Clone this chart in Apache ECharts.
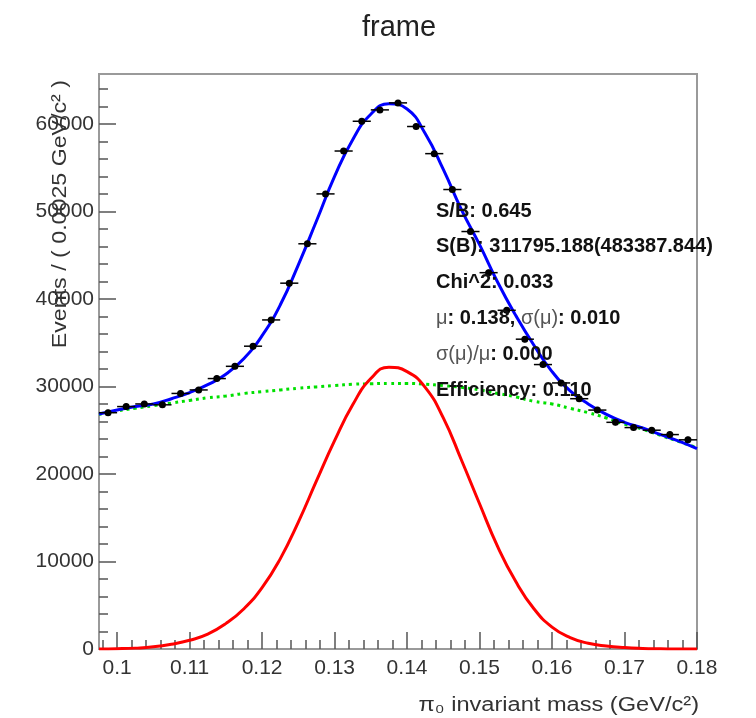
<!DOCTYPE html>
<html>
<head>
<meta charset="utf-8">
<title>frame</title>
<script src="https://cdn.jsdelivr.net/npm/echarts@6/dist/echarts.min.js"></script>
<style>
  html, body { margin: 0; padding: 0; background: #fff; }
  #chart { width: 756px; height: 718px; }
</style>
</head>
<body>
<div id="chart"></div>
<script>
// bin centres and event counts (bin width 0.0025 GeV/c^2)
const binCenters = [
  0.09875, 0.10125, 0.10375, 0.10625, 0.10875, 0.11125, 0.11375, 0.11625, 0.11875, 0.12125, 0.12375,
  0.12625, 0.12875, 0.13125, 0.13375, 0.13625, 0.13875, 0.14125, 0.14375, 0.14625, 0.14875, 0.15125,
  0.15375, 0.15625, 0.15875, 0.16125, 0.16375, 0.16625, 0.16875, 0.17125, 0.17375, 0.17625, 0.17875
]
const events = [
  27000, 27700, 28000, 27900, 29200, 29600, 30900, 32300, 34600, 37600, 41800,
  46300, 52000, 56900, 60300, 61600, 62400, 59700, 56600, 52500, 47700, 43000,
  38700, 35400, 32500, 30400, 28600, 27300, 25900, 25300, 25000, 24500, 23900
]
const binHalf = 0.00125

// fit curves read at these masses
const massGrid = [
  0.0975, 0.1, 0.1025, 0.105, 0.1075, 0.11, 0.1125, 0.115, 0.1175, 0.12, 0.1225, 0.125,
  0.1275, 0.13, 0.1325, 0.135, 0.1375, 0.14, 0.1425, 0.145, 0.1475, 0.15, 0.1525, 0.155,
  0.1575, 0.16, 0.1625, 0.165, 0.1675, 0.17, 0.1725, 0.175, 0.1775, 0.18
]
const totalFit = [
  26850, 27300, 27700, 28000, 28600, 29300, 30200, 31400, 33200, 35800, 39300, 43900,
  48900, 54000, 58200, 61100, 62300, 61700, 58900, 54800, 50200, 46200, 41900, 38100,
  34700, 31700, 29500, 28000, 26800, 25900, 25250, 24500, 23750, 22900
]
const signalFit = [
  0, 30, 100, 250, 550, 1000, 1700, 2900, 4600, 7000, 10300, 14500,
  19200, 23800, 27900, 30900, 32200, 31700, 29900, 26400, 21600, 16600, 11700, 7700,
  4600, 2500, 1300, 650, 330, 160, 70, 30, 0, 0
]
const bkgFit = [
  26800, 27200, 27500, 27800, 28100, 28400, 28700, 28900, 29200, 29400, 29600, 29800,
  29950, 30100, 30250, 30300, 30350, 30350, 30250, 30100, 29900, 29600, 29200, 28800,
  28300, 28000, 27500, 27000, 26400, 25700, 25100, 24400, 23700, 23000
]

const xLabels = [0.1, 0.11, 0.12, 0.13, 0.14, 0.15, 0.16, 0.17, 0.18]
const yLabels = [0, 10000, 20000, 30000, 40000, 50000, 60000]
const xMinor = []
for (let i = 49; i <= 90; i++) xMinor.push(+(i * 0.002).toFixed(3))
const yMinor = []
for (let i = 1; i <= 32; i++) yMinor.push(i * 2000)

const stats = [
  'S/B: 0.645',
  'S(B): 311795.188(483387.844)',
  'Chi^2: 0.033',
  '{g|μ}: 0.138, {g|σ(μ)}: 0.010',
  '{g|σ(μ)/μ}: 0.000',
  'Efficiency: 0.110',
]

const FONT = '"Liberation Sans", Arial, Helvetica, sans-serif'
const X_MIN = 0.0975, X_MAX = 0.18, Y_MAX = 65700

const pair = (xs, ys) => xs.map((x, i) => [x, ys[i]])

const chart = echarts.init(document.getElementById('chart'))

const frameColor = '#9a9a9a'
const tickColor = '#555'

chart.setOption({
  animation: false,
  backgroundColor: '#fff',
  grid: {
    left: 99, right: 59, top: 74, bottom: 69,
    show: true, borderColor: frameColor, borderWidth: 2,
  },
  xAxis: [{
    type: 'value', min: X_MIN, max: X_MAX,
    axisLine: { show: true, onZero: false, lineStyle: { color: frameColor, width: 2 } },
    axisTick: { show: true, inside: true, length: 17, customValues: xLabels, lineStyle: { color: tickColor, width: 1.5 } },
    axisLabel: {
      customValues: xLabels, margin: 9,
      fontFamily: FONT, fontSize: 21, color: '#333',
      formatter: v => String(+v.toFixed(2)),
    },
    splitLine: { show: false },
  }, {
    type: 'value', min: X_MIN, max: X_MAX, position: 'bottom',
    axisLine: { show: false },
    axisTick: { show: true, inside: true, length: 9, customValues: xMinor, lineStyle: { color: tickColor, width: 1.5 } },
    axisLabel: { show: false },
    splitLine: { show: false },
  }],
  yAxis: [{
    type: 'value', min: 0, max: Y_MAX,
    axisLine: { show: true, lineStyle: { color: frameColor, width: 2 } },
    axisTick: { show: true, inside: true, length: 17, customValues: yLabels, lineStyle: { color: tickColor, width: 1.5 } },
    axisLabel: {
      customValues: yLabels, margin: 5,
      fontFamily: FONT, fontSize: 21, color: '#333',
      formatter: v => String(v),
    },
    splitLine: { show: false },
  }, {
    type: 'value', min: 0, max: Y_MAX, position: 'left',
    axisLine: { show: false },
    axisTick: { show: true, inside: true, length: 9, customValues: yMinor, lineStyle: { color: tickColor, width: 1.5 } },
    axisLabel: { show: false },
    splitLine: { show: false },
  }],
  series: [
    {
      name: 'background', type: 'line', data: pair(massGrid, bkgFit),
      smooth: true, symbol: 'none',
      lineStyle: { color: '#00e000', width: 3, type: [3, 4] },
      z: 2,
    },
    {
      name: 'signal', type: 'line', data: pair(massGrid, signalFit),
      smooth: true, symbol: 'none',
      lineStyle: { color: '#ff0000', width: 3 },
      z: 3,
    },
    {
      name: 'total', type: 'line', data: pair(massGrid, totalFit),
      smooth: true, symbol: 'none',
      lineStyle: { color: '#0000ff', width: 3 },
      z: 4,
    },
    {
      name: 'data', type: 'custom', data: pair(binCenters, events),
      z: 5,
      renderItem: (params, api) => {
        const x = api.value(0), y = api.value(1)
        const c = api.coord([x, y])
        const l = api.coord([x - binHalf, y])
        const r = api.coord([x + binHalf, y])
        return {
          type: 'group',
          children: [
            { type: 'line', shape: { x1: l[0], y1: c[1], x2: r[0], y2: c[1] }, style: { stroke: '#000', lineWidth: 1.5 } },
            { type: 'line', shape: { x1: c[0], y1: c[1] - 3, x2: c[0], y2: c[1] + 3 }, style: { stroke: '#000', lineWidth: 1.5 } },
            { type: 'circle', shape: { cx: c[0], cy: c[1], r: 3.5 }, style: { fill: '#000' } },
          ],
        }
      },
    },
  ],
  graphic: [
    {
      type: 'text', x: 399, y: 28,
      style: {
        text: 'frame', font: `29px ${FONT}`, fill: '#222',
        textAlign: 'center', textVerticalAlign: 'middle',
      },
    },
    {
      type: 'text', x: 60, y: 80, rotation: Math.PI / 2, scaleX: 1.16,
      style: {
        text: 'Events / ( 0.0025 GeV/c² )', font: `20px ${FONT}`, fill: '#333',
        textAlign: 'right', textVerticalAlign: 'middle',
      },
    },
    {
      type: 'text', x: 699, y: 705, scaleX: 1.18,
      style: {
        text: 'π₀ invariant mass (GeV/c²)', font: `20px ${FONT}`, fill: '#333',
        textAlign: 'right', textVerticalAlign: 'middle',
      },
    },
    ...stats.map((s, i) => ({
      type: 'text', x: 436, y: 211 + i * 35.8, z: 10,
      style: {
        text: s, font: `bold 20px ${FONT}`, fill: '#111',
        textVerticalAlign: 'middle',
        rich: { g: { fontFamily: FONT, fontSize: 20, fontWeight: 'normal', fill: '#555' } },
      },
    })),
  ],
})
</script>
</body>
</html>
